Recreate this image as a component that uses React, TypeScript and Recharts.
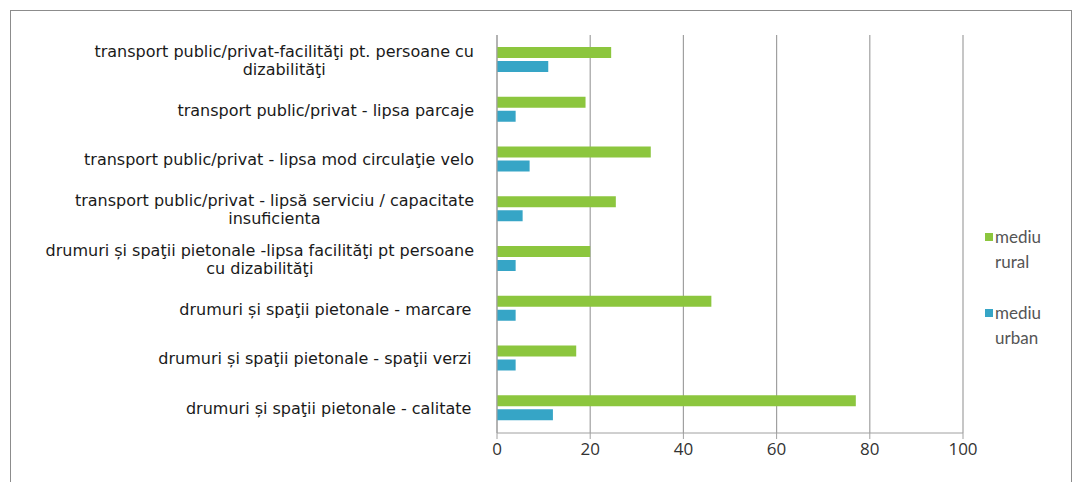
import { BarChart, Bar, XAxis, YAxis, CartesianGrid } from "recharts"

const categories = [
  "transport public/privat-facilităţi pt. persoane cu\ndizabilităţi",
  "transport public/privat - lipsa parcaje",
  "transport public/privat - lipsa mod circulaţie velo",
  "transport public/privat - lipsă serviciu / capacitate\ninsuficienta",
  "drumuri și spaţii pietonale -lipsa facilităţi pt persoane\ncu dizabilităţi",
  "drumuri și spaţii pietonale  - marcare",
  "drumuri și spaţii pietonale  - spaţii verzi",
  "drumuri și spaţii pietonale  - calitate",
]
const rural = [24.5, 19, 33, 25.5, 20, 46, 17, 77]
const urban = [11, 4, 7, 5.5, 4, 4, 4, 12]
const xTicks = [0, 20, 40, 60, 80, 100]

const series = [
  { key: "rural", name: "mediu\nrural", color: "#8CC63E" },
  { key: "urban", name: "mediu\nurban", color: "#36A5C6" },
]

const data = categories.map((name, i) => ({ name, rural: rural[i], urban: urban[i] }))

const labelFont = "16px 'DejaVu Sans', Verdana, sans-serif"
let ctx: CanvasRenderingContext2D | null = null
function measure(s: string) {
  if (!ctx) ctx = document.createElement("canvas").getContext("2d")
  if (!ctx) return s.length * 8
  ctx.font = labelFont
  return ctx.measureText(s).width
}

// category labels: lines centred on each other, block right-aligned
function CategoryTick(props: any) {
  const { x, y, payload } = props
  const lines: string[] = String(payload.value).split("\n")
  const maxW = Math.max(...lines.map(measure))
  const right = x - 15
  const cx = right - maxW / 2
  const lh = 18
  const y0 = y - ((lines.length - 1) * lh) / 2
  return (
    <text
      x={cx}
      y={y0}
      textAnchor="middle"
      dominantBaseline="central"
      fill="#1a1a1a"
      style={{ font: labelFont }}
    >
      {lines.map((l, i) => (
        <tspan key={i} x={cx} y={y0 + i * lh}>
          {l}
        </tspan>
      ))}
    </text>
  )
}

function LegendBox() {
  return (
    <div
      style={{
        position: "absolute",
        left: 985,
        top: 225,
        fontFamily: "Lato, 'Open Sans', sans-serif",
        fontSize: 17,
        color: "#555",
      }}
    >
      {series.map((s) => {
        const [a, b] = s.name.split("\n")
        return (
          <div key={s.key} style={{ position: "relative", height: 76, width: 80 }}>
            <span
              style={{
                position: "absolute",
                left: 0,
                top: 8,
                width: 8,
                height: 8,
                background: s.color,
              }}
            />
            <div style={{ position: "absolute", left: 10, top: 0, lineHeight: "24px" }}>{a}</div>
            <div style={{ position: "absolute", left: 10, top: 25, lineHeight: "24px" }}>{b}</div>
          </div>
        )
      })}
    </div>
  )
}

export default function App() {
  return (
    <div style={{ position: "absolute", left: 0, top: 0, width: 1075, height: 482, background: "#fff" }}>
      <div
        style={{
          position: "absolute",
          left: 10,
          top: 10,
          width: 1062,
          height: 480,
          border: "1px solid #8c8c8c",
          boxSizing: "border-box",
        }}
      />
      <BarChart
        width={1075}
        height={482}
        data={data}
        layout="vertical"
        margin={{ top: 35, right: 112, bottom: 19, left: 0 }}
        barGap={3}
        barCategoryGap={12}
      >
        <CartesianGrid horizontal={false} stroke="#a0a0a0" strokeWidth={1.2} />
        <XAxis
          type="number"
          domain={[0, 100]}
          ticks={xTicks}
          height={30}
          tickLine={{ stroke: "#a0a0a0" }}
          axisLine={{ stroke: "#a0a0a0" }}
          tick={{ fill: "#333", fontSize: 17, fontFamily: "'Open Sans', sans-serif" }}
          tickMargin={4}
        />
        <YAxis
          type="category"
          dataKey="name"
          width={497}
          tick={<CategoryTick />}
          tickLine={false}
          axisLine={{ stroke: "#a0a0a0" }}
          interval={0}
        />
        {series.map((s) => (
          <Bar
            key={s.key}
            dataKey={s.key}
            name={s.name}
            fill={s.color}
            barSize={11}
            isAnimationActive={false}
          />
        ))}
      </BarChart>
      <LegendBox />
    </div>
  )
}
